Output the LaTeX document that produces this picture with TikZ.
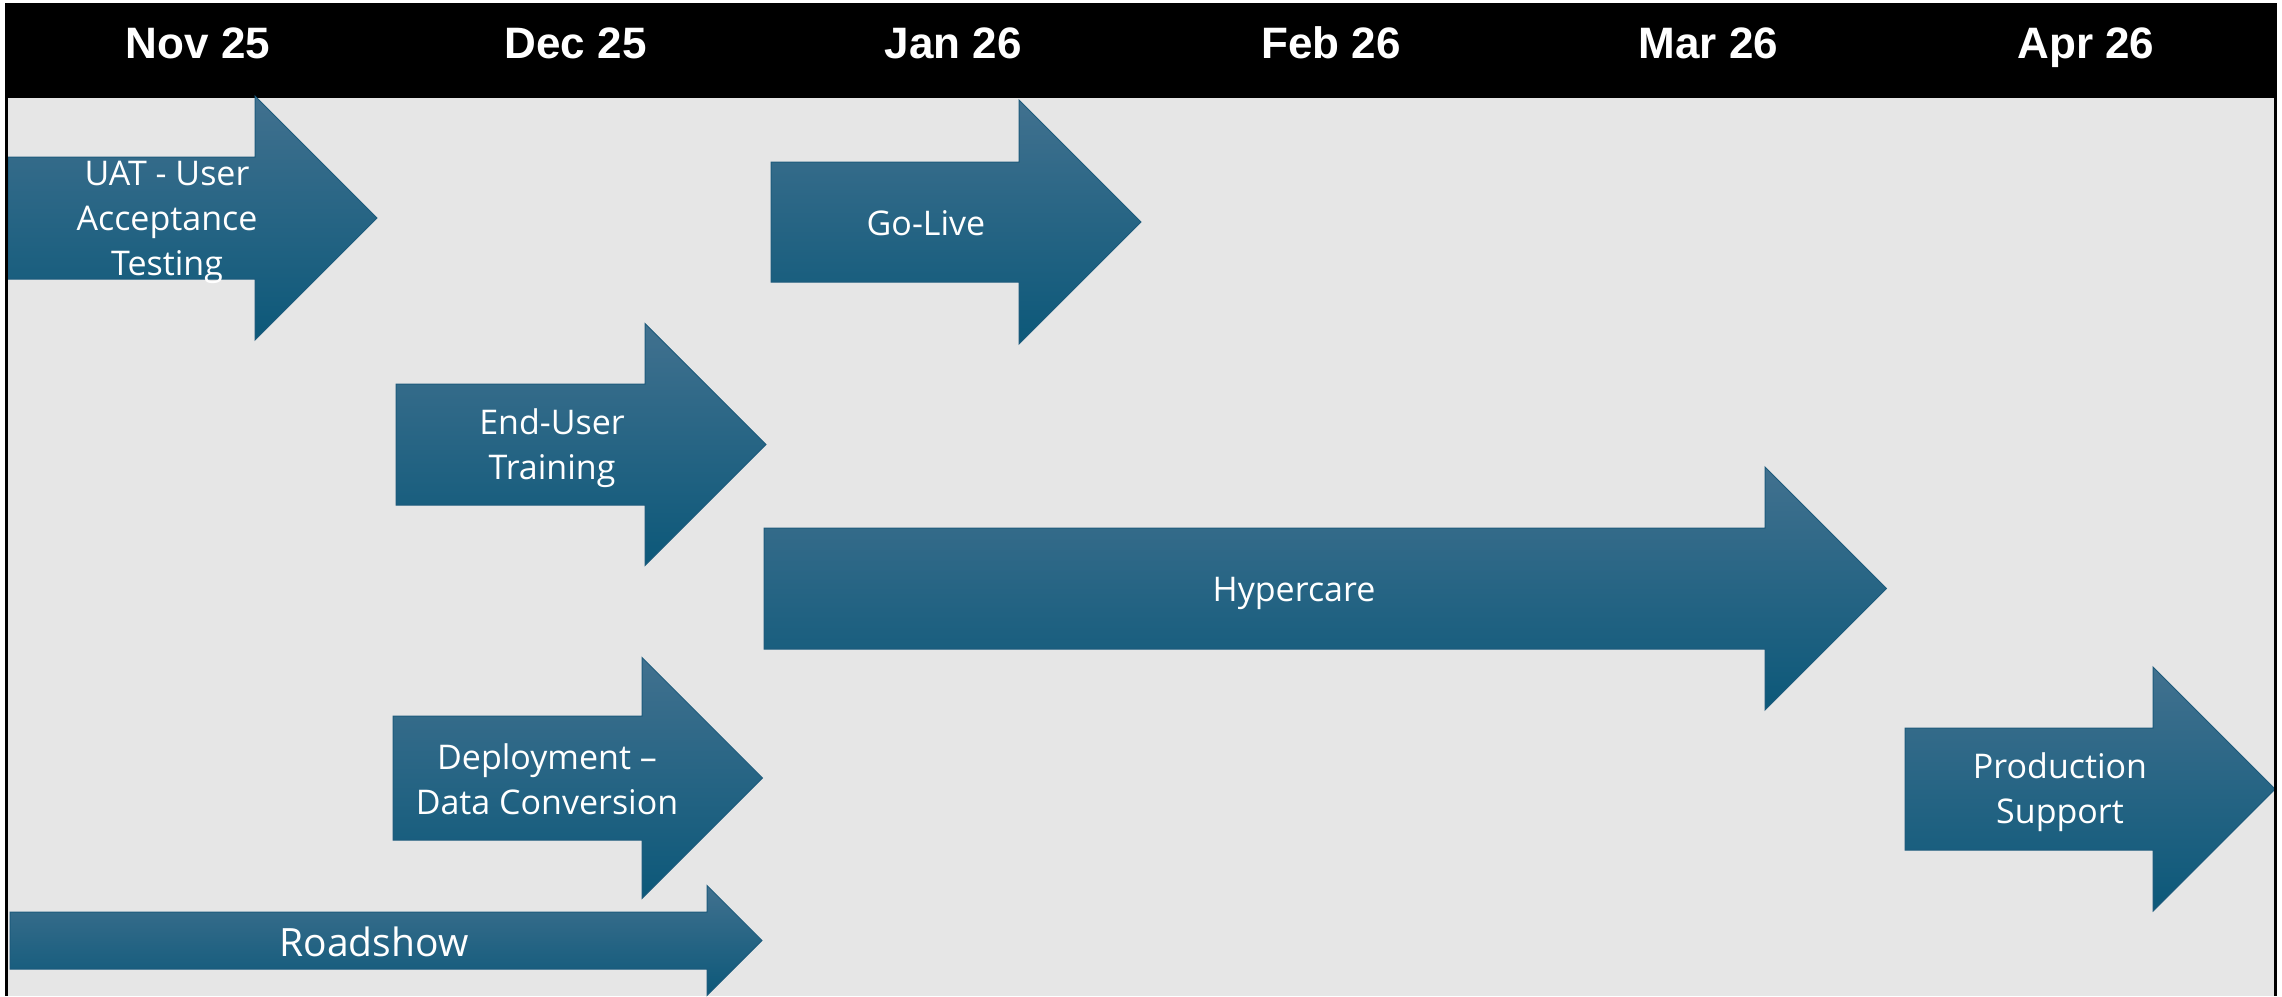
\documentclass[tikz,border=0pt]{standalone}
\usepackage{fontspec}
\setmainfont{Open Sans}
\newfontfamily\headfont{Liberation Sans}
\usepackage{tikz}
\usetikzlibrary{positioning}
\definecolor{panelgray}{HTML}{E6E6E6}
\definecolor{arrowtop}{HTML}{41718F}
\definecolor{arrowmid}{HTML}{14628A}
\definecolor{arrowbot}{HTML}{0C5879}
\definecolor{arrowline}{HTML}{1D5B7C}

\begin{document}
\begin{tikzpicture}[x=1pt,y=-1pt,
    phase/.style={top color=arrowtop,middle color=arrowmid,bottom color=arrowbot,
        draw=arrowline,line width=1pt,line join=miter},
    phase label/.style={text=white,align=center,inner sep=0pt,
        font=\fontsize{34}{45}\selectfont},
    month/.style={text=white,anchor=base,font=\headfont\bfseries\fontsize{44}{44}\selectfont}]
    \useasboundingbox (0,0) rectangle (2282,996);
    %%%%% THE PANEL
    \fill[white] (0,0) rectangle (2282,996);
    \fill[panelgray] (7,98) rectangle (2275,996);
    \fill[black] (5,3) rectangle (2277,98);
    %%%%% THE MONTHS
    \foreach \m [count=\i from 0] in {Nov 25,Dec 25,Jan 26,Feb 26,Mar 26,Apr 26}
      \node[month] (month-\i) at (198+377.6*\i,58) {\m};
    %%%%% THE ARROWS (left / head / centre / body half / head half)
    \foreach \l/\h/\y/\b/\a in {8/255/218/61/122, 771/1019/222/60/122,
        396/645/444.5/60.5/121, 764/1765/588.5/60.5/121.5,
        393/642/778/62/120.5, 1905/2153/789/61/122, 10/707/940.5/28.5/55}
      \draw[phase] (\l,\y-\b) -- (\h,\y-\b) -- (\h,\y-\a) -- (\h+\a,\y)
        -- (\h,\y+\a) -- (\h,\y+\b) -- (\l,\y+\b) -- cycle;
    %%%%% LABELS ON THE ARROWS
    \node[phase label] (uat) at (167,222) {UAT - User\\Acceptance\\Testing};
    \node[phase label] (golive) at (926,223) {Go-Live};
    \node[phase label] (training) at (552,448) {End-User\\Training};
    \node[phase label] (hypercare) at (1294,593) {Hypercare};
    \node[phase label] (deploy) at (547,779) {Deployment –\\Data Conversion};
    \node[phase label] (prodsupport) at (2060,792) {Production\\Support};
    \node[phase label,font=\fontsize{39}{45}\selectfont] (roadshow) at (374,942) {Roadshow};
    %%%%% FRAME LINES
    \draw[black,line width=3pt] (6.5,98) -- (6.5,996);
    \draw[black,line width=3pt] (2275.5,98) -- (2275.5,996);
\end{tikzpicture}
\end{document}
